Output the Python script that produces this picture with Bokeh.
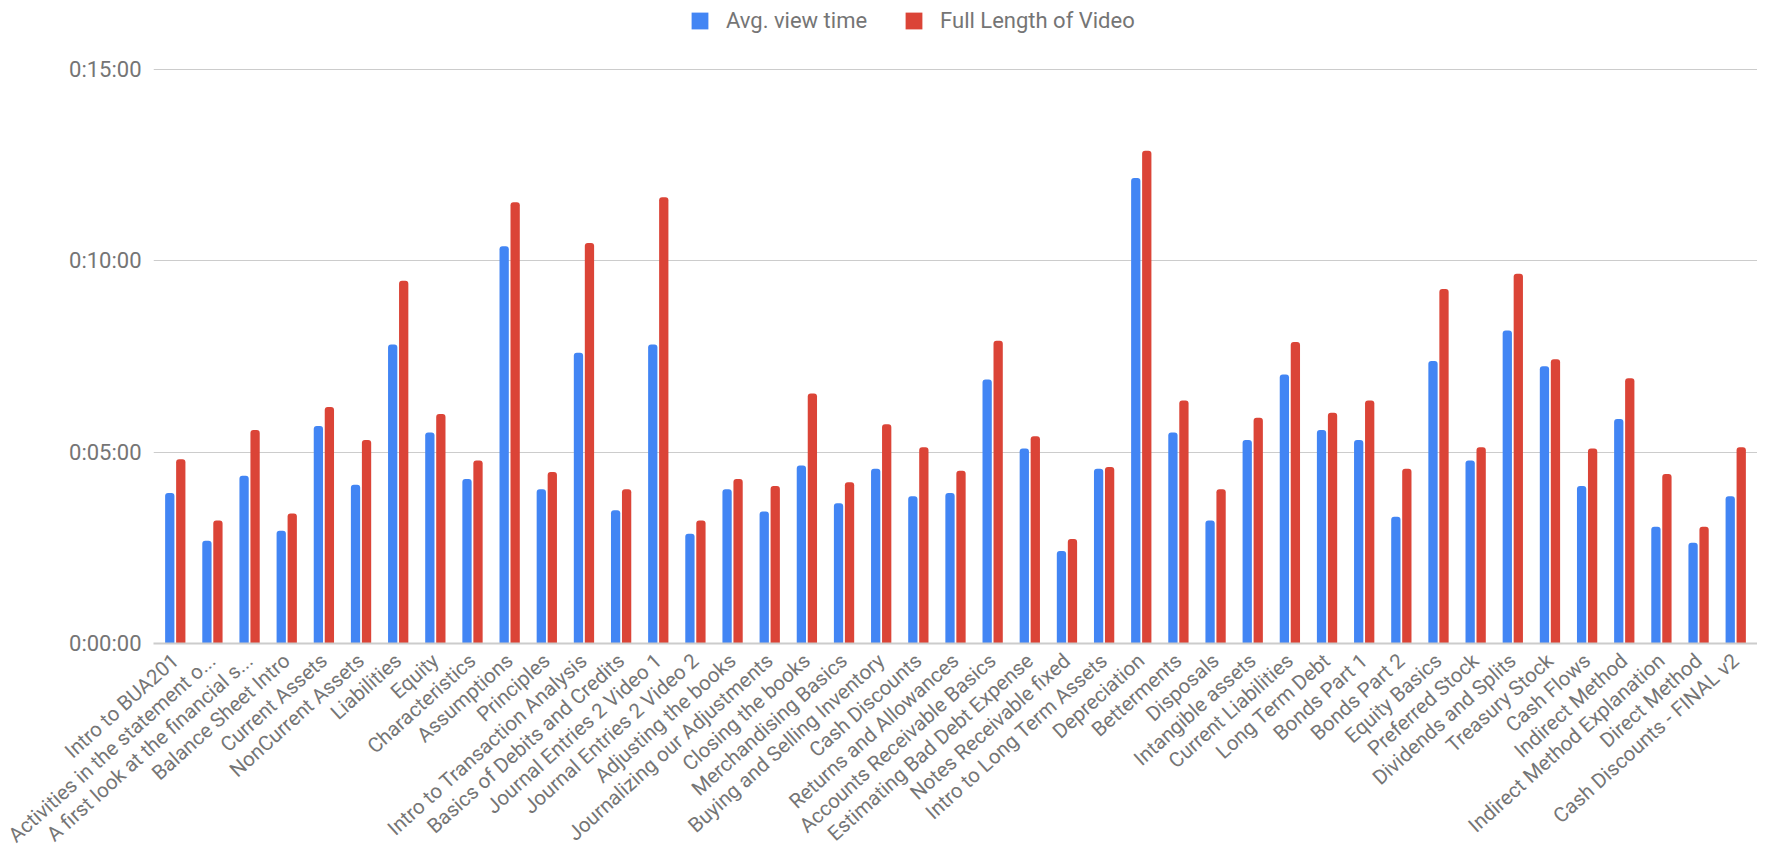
from math import pi
from bokeh.plotting import figure
from bokeh.models import ColumnDataSource, FixedTicker, Legend, LegendItem, FactorRange
from bokeh.transform import dodge
from bokeh.embed import file_html
from bokeh.resources import INLINE

categories = [
    "Intro to BUA201", "Activities in the statement o...", "A first look at the financial s...",
    "Balance Sheet Intro", "Current Assets", "NonCurrent Assets", "Liabilities", "Equity",
    "Characteristics", "Assumptions", "Principles", "Intro to Transaction Analysis",
    "Basics of Debits and Credits", "Journal Entries 2 Video 1", "Journal Entries 2 Video 2",
    "Adjusting the books", "Journalizing our Adjustments", "Closing the books",
    "Merchandising Basics", "Buying and Selling Inventory", "Cash Discounts",
    "Returns and Allowances", "Accounts Receivable Basics", "Estimating Bad Debt Expense",
    "Notes Receivable fixed", "Intro to Long Term Assets", "Depreciation", "Betterments",
    "Disposals", "Intangible assets", "Current Liabilities", "Long Term Debt", "Bonds Part 1",
    "Bonds Part 2", "Equity Basics", "Preferred Stock", "Dividends and Splits", "Treasury Stock",
    "Cash Flows", "Indirect Method", "Indirect Method Explanation", "Direct Method",
    "Cash Discounts - FINAL v2",
]

# seconds
avg_view_time = [236, 161, 263, 177, 341, 249, 469, 331, 258, 623, 242, 456, 209, 469, 172,
                 242, 207, 279, 220, 274, 231, 236, 414, 306, 145, 274, 730, 331, 193, 319,
                 422, 335, 319, 199, 443, 287, 491, 435, 247, 352, 183, 158, 231]
full_length = [289, 193, 335, 204, 371, 319, 569, 360, 287, 692, 269, 628, 242, 700, 193,
               258, 247, 392, 253, 344, 308, 271, 475, 325, 164, 277, 773, 381, 242, 354,
               473, 362, 381, 274, 556, 308, 580, 446, 306, 416, 266, 183, 308]

y_ticks = [0, 300, 600, 900]
y_tick_labels = ["0:00:00", "0:05:00", "0:10:00", "0:15:00"]
series_names = ["Avg. view time", "Full Length of Video"]

BLUE = "#4285F4"
RED = "#DB4437"
GRAY_TEXT = "#757575"
FONT = "Roboto"

FRAME_H = 635

source = ColumnDataSource(dict(cat=categories, avg=avg_view_time, full=full_length))

p = figure(
    x_range=FactorRange(*categories, range_padding=0.004),
    y_range=(0, 996),
    frame_width=1604, frame_height=FRAME_H,
    output_backend="svg", toolbar_location=None,
    min_border_left=153, min_border_right=0, min_border_top=8, min_border_bottom=0,
)
p.outline_line_color = None
p.background_fill_color = "white"
p.border_fill_color = "white"

r1 = p.vbar(x=dodge("cat", -0.148, range=p.x_range), top="avg", width=0.25, source=source,
            fill_color=BLUE, line_color=None, border_radius=(3, 3, 0, 0))
r2 = p.vbar(x=dodge("cat", 0.148, range=p.x_range), top="full", width=0.25, source=source,
            fill_color=RED, line_color=None, border_radius=(3, 3, 0, 0))

# y axis
p.yaxis.ticker = FixedTicker(ticks=y_ticks)
p.yaxis.major_label_overrides = {t: l for t, l in zip(y_ticks, y_tick_labels)}
p.yaxis.axis_line_color = None
p.yaxis.major_tick_line_color = None
p.yaxis.minor_tick_line_color = None
p.yaxis.major_tick_out = 0
p.yaxis.major_tick_in = 0
p.yaxis.major_label_standoff = 12
p.yaxis.major_label_text_font = FONT
p.yaxis.major_label_text_font_size = "22px"
p.yaxis.major_label_text_color = GRAY_TEXT

p.ygrid.ticker = FixedTicker(ticks=[300, 600, 900])
p.ygrid.grid_line_color = "#cccccc"
p.ygrid.grid_line_width = 1
p.xgrid.grid_line_color = None

# x axis
p.xaxis.axis_line_color = "#cccccc"
p.xaxis.axis_line_width = 2
p.xaxis.major_tick_line_color = None
p.xaxis.minor_tick_line_color = None
p.xaxis.major_tick_out = 0
p.xaxis.major_tick_in = 0
p.xaxis.major_label_orientation = pi * 42 / 180
p.xaxis.major_label_standoff = 14
p.xaxis.major_label_text_font = FONT
p.xaxis.major_label_text_font_size = "20.5px"
p.xaxis.major_label_text_color = GRAY_TEXT

legend = Legend(
    items=[LegendItem(label=series_names[0], renderers=[r1]),
           LegendItem(label=series_names[1], renderers=[r2])],
    orientation="horizontal",
    location=(536, FRAME_H - 25),
    border_line_color=None,
    background_fill_alpha=0,
    padding=0, margin=0, spacing=36,
    glyph_width=21, glyph_height=21, label_standoff=16,
    label_text_font=FONT, label_text_font_size="22px", label_text_color=GRAY_TEXT,
    label_height=21,
)
p.add_layout(legend, "center")

open("out.html", "w").write(file_html(p, INLINE))
